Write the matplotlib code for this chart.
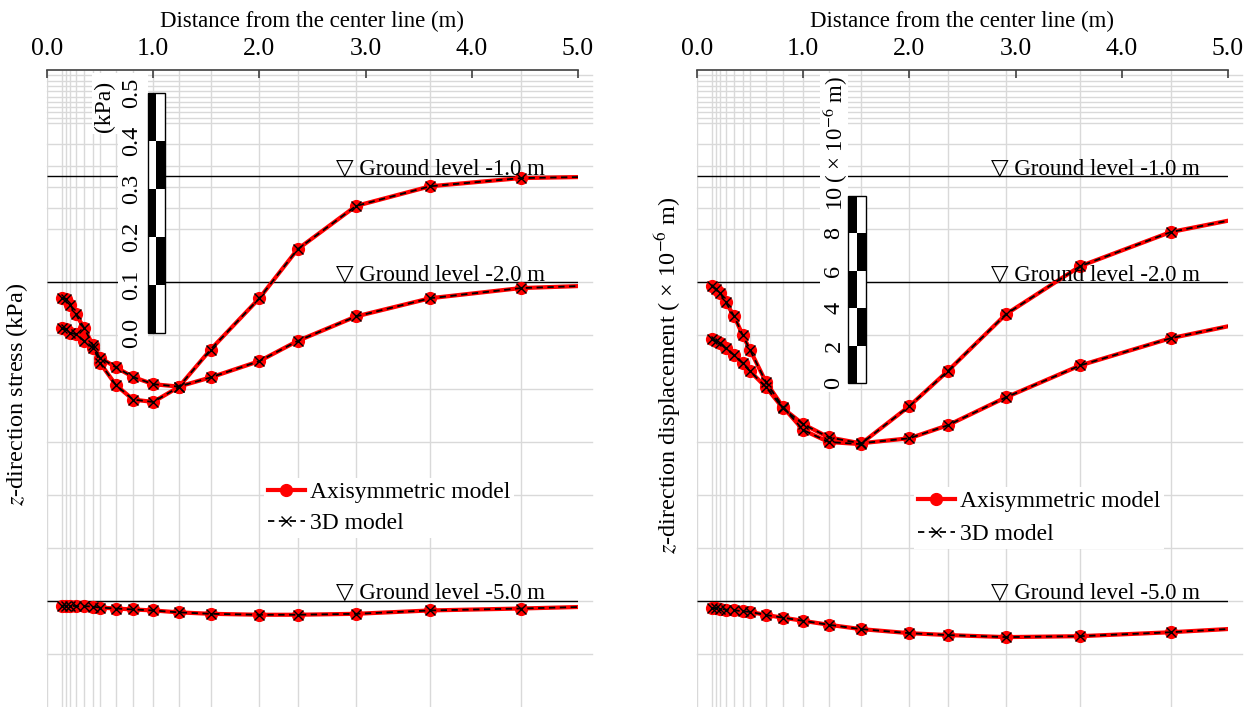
import matplotlib
matplotlib.use("Agg")
import numpy as np
import matplotlib.pyplot as plt
from matplotlib.patches import Rectangle

plt.rcParams['font.family'] = ['Liberation Serif', 'DejaVu Sans']
plt.rcParams['mathtext.fontset'] = 'stix'

# ---------------- data ----------------
x_pos = [0.14, 0.18, 0.22, 0.27, 0.35, 0.43, 0.50, 0.65, 0.81, 1.00,
         1.24, 1.54, 2.00, 2.36, 2.91, 3.61, 4.46, 5.50]

x_ticks = [0, 1, 2, 3, 4, 5]
x_tick_labels = ['0.0', '1.0', '2.0', '3.0', '4.0', '5.0']

ground_levels = [1.0, 2.0, 5.0]
ground_labels = ['▽ Ground level -1.0 m', '▽ Ground level -2.0 m', '▽ Ground level -5.0 m']

# z-direction stress (kPa), axisymmetric model
stress_axi_gl1 = [-0.254, -0.256, -0.268, -0.287, -0.316, -0.351, -0.389, -0.435, -0.465, -0.470,
                  -0.439, -0.361, -0.254, -0.152, -0.062, -0.021, -0.004, 0.000]
stress_axi_gl2 = [-0.096, -0.098, -0.105, -0.108, -0.122, -0.136, -0.157, -0.177, -0.197, -0.212,
                  -0.217, -0.198, -0.164, -0.122, -0.071, -0.033, -0.012, -0.004]
stress_axi_gl5 = [-0.010, -0.010, -0.010, -0.011, -0.011, -0.012, -0.014, -0.016, -0.018, -0.020,
                  -0.024, -0.027, -0.029, -0.029, -0.027, -0.020, -0.016, -0.010]
# z-direction stress (kPa), 3D model
stress_3d_gl1 = [-0.254, -0.256, -0.268, -0.287, -0.316, -0.351, -0.389, -0.435, -0.465, -0.470,
                 -0.439, -0.361, -0.254, -0.152, -0.062, -0.021, -0.004, 0.000]
stress_3d_gl2 = [-0.096, -0.098, -0.105, -0.108, -0.122, -0.136, -0.157, -0.177, -0.197, -0.212,
                 -0.217, -0.198, -0.164, -0.122, -0.071, -0.033, -0.012, -0.004]
stress_3d_gl5 = [-0.010, -0.010, -0.010, -0.011, -0.011, -0.012, -0.014, -0.016, -0.018, -0.020,
                 -0.024, -0.027, -0.029, -0.029, -0.027, -0.020, -0.016, -0.010]

# z-direction displacement (x1e-6 m), axisymmetric model
disp_axi_gl1 = [-5.88, -6.04, -6.26, -6.74, -7.49, -8.50, -9.30, -11.02, -12.35, -13.58,
                -14.22, -14.33, -12.30, -10.43, -7.38, -4.81, -2.99, -1.82]
disp_axi_gl2 = [-3.05, -3.16, -3.26, -3.53, -3.90, -4.33, -4.76, -5.61, -6.74, -7.59,
                -8.29, -8.61, -8.34, -7.65, -6.15, -4.44, -2.99, -1.76]
disp_axi_gl5 = [-0.38, -0.40, -0.42, -0.47, -0.50, -0.56, -0.59, -0.76, -0.90, -1.07,
                -1.28, -1.51, -1.73, -1.83, -1.94, -1.89, -1.68, -1.35]
# z-direction displacement (x1e-6 m), 3D model
disp_3d_gl1 = [-5.88, -6.04, -6.26, -6.74, -7.49, -8.50, -9.30, -11.02, -12.35, -13.58,
               -14.22, -14.33, -12.30, -10.43, -7.38, -4.81, -2.99, -1.82]
disp_3d_gl2 = [-3.05, -3.16, -3.26, -3.53, -3.90, -4.33, -4.76, -5.61, -6.74, -7.59,
               -8.29, -8.61, -8.34, -7.65, -6.15, -4.44, -2.99, -1.76]
disp_3d_gl5 = [-0.38, -0.40, -0.42, -0.47, -0.50, -0.56, -0.59, -0.76, -0.90, -1.07,
               -1.28, -1.51, -1.73, -1.83, -1.94, -1.89, -1.68, -1.35]

# horizontal mesh grid depths (m)
grid_depths = [0.05, 0.10, 0.15, 0.20, 0.25, 0.30, 0.35, 0.40, 0.45, 0.50,
               0.70, 0.90, 1.10, 1.30, 1.50, 2.0, 2.5, 3.0, 3.5, 4.0, 4.5, 5.0, 5.5]

stress_bar_ticks = ['0.0', '0.1', '0.2', '0.3', '0.4', '0.5']
disp_bar_ticks = ['0', '2', '4', '6', '8', '10']

# ---------------- figure ----------------
W, H = 1247, 707
fig = plt.figure(figsize=(W / 100, H / 100), dpi=100)
FS = 16.5
GRID_C = '#d9d9d9'


def setup_axes(left_px):
    ax = fig.add_axes([left_px / W, 0, 531 / W, 637 / H])
    ax.set_xlim(0, 5)
    ax.set_ylim(-6, 0)
    for s in ['left', 'right', 'bottom']:
        ax.spines[s].set_visible(False)
    ax.spines['top'].set_color('#404040')
    ax.spines['top'].set_linewidth(1.2)
    ax.xaxis.tick_top()
    ax.xaxis.set_label_position('top')
    ax.set_xticks(x_ticks)
    ax.set_xticklabels(x_tick_labels)
    ax.tick_params(axis='x', direction='in', length=6, width=1.2, color='#404040',
                   labelsize=18.5, pad=7)
    ax.set_yticks([])
    ax.set_xlabel('Distance from the center line (m)', fontsize=FS, labelpad=8)
    ax.patch.set_alpha(0)
    # grid
    ax.vlines([0] + x_pos[:-1], -6, 0, color=GRID_C, lw=1, zorder=0.5)
    for d in grid_depths:
        ax.plot([0, 5.13], [-d, -d], color=GRID_C, lw=1, zorder=0.5, clip_on=False)
    ax.hlines([-g for g in ground_levels], 0, 5, color='black', lw=1, zorder=1)
    return ax


def draw_bar(ax, x0, x1, y0, seg):
    xm = (x0 + x1) / 2
    for i in range(5):
        yb = y0 + i * seg
        left_black = (i % 2 == 0)
        ax.add_patch(Rectangle((x0, yb), xm - x0, seg, facecolor='black' if left_black else 'white',
                               edgecolor='none', zorder=3))
        ax.add_patch(Rectangle((xm, yb), x1 - xm, seg, facecolor='white' if left_black else 'black',
                               edgecolor='none', zorder=3))
    ax.add_patch(Rectangle((x0, y0), x1 - x0, 5 * seg, facecolor='none', edgecolor='black',
                           lw=1, zorder=3.5))


def draw_curves(ax, k, axi_list, d3_list):
    hs = []
    for lvl, va, vb in zip(ground_levels, axi_list, d3_list):
        ya = -lvl + k * np.array(va)
        yb = -lvl + k * np.array(vb)
        h1, = ax.plot(x_pos, ya, color='#ff0000', lw=3, marker='o', ms=8.5, zorder=5)
        h2, = ax.plot(x_pos, yb, color='black', lw=1.3, ls=(0, (3.5, 2.5)), marker='x',
                      ms=7.5, mew=1.0, zorder=6)
        hs = [h1, h2]
    return hs


def ground_text(ax, xr):
    for lvl, lab in zip(ground_levels, ground_labels):
        ax.text(xr, -lvl + 0.02, lab, ha='right', va='baseline', fontsize=FS, zorder=7)


# ---------- left panel: stress ----------
axL = setup_axes(47)
kL = 4.525  # m per kPa on the plot
hL = draw_curves(axL, kL, [stress_axi_gl1, stress_axi_gl2, stress_axi_gl5],
                 [stress_3d_gl1, stress_3d_gl2, stress_3d_gl5])
ground_text(axL, 4.69)
axL.add_patch(Rectangle((0.669, -2.64), 0.282, 2.61, facecolor='white', edgecolor='none', zorder=2))
axL.add_patch(Rectangle((0.42, -0.60), 0.26, 0.57, facecolor='white', edgecolor='none', zorder=2))
barL_bottom = -2.477
draw_bar(axL, 0.951, 1.11, barL_bottom, 0.1 * kL)
for i, t in enumerate(stress_bar_ticks):
    axL.text(0.80, barL_bottom + i * 0.1 * kL, t, rotation=90, ha='center', va='center',
             fontsize=17.5, zorder=4)
axL.text(0.54, -0.339, '(kPa)', rotation=90, ha='center', va='center', fontsize=17, zorder=4)
legL = axL.legend(hL, ['Axisymmetric model', '3D model'], loc='center left',
                  bbox_to_anchor=(264 / W, 1 - 508 / H), bbox_transform=fig.transFigure,
                  frameon=True, fancybox=False, facecolor='white', edgecolor='none', framealpha=1,
                  fontsize=17, handlelength=1.6, handletextpad=0.2, labelspacing=0.4,
                  borderpad=0.15, borderaxespad=0)
legL.set_zorder(8)
fig.text(17 / W, 1 - 394 / H, r'$z$-direction stress (kPa)', rotation=90, ha='center',
         va='center', fontsize=17.5)

# ---------- right panel: displacement ----------
axR = setup_axes(697)
kR = 0.1761  # m per 1e-6 m on the plot
hR = draw_curves(axR, kR, [disp_axi_gl1, disp_axi_gl2, disp_axi_gl5],
                 [disp_3d_gl1, disp_3d_gl2, disp_3d_gl5])
ground_text(axR, 4.737)
axR.add_patch(Rectangle((1.158, -3.03), 0.264, 3.0, facecolor='white', edgecolor='none', zorder=2))
barR_bottom = -2.948
draw_bar(axR, 1.422, 1.592, barR_bottom, 2 * kR)
for i, t in enumerate(disp_bar_ticks):
    axR.text(1.29, barR_bottom + i * 2 * kR, t, rotation=90, ha='center', va='center',
             fontsize=17.5, zorder=4)
axR.text(1.30, -0.56, r'( × 10$^{-6}$ m)', rotation=90, ha='center', va='center',
         fontsize=FS, zorder=4)
legR = axR.legend(hR, ['Axisymmetric model', '3D model'], loc='center left',
                  bbox_to_anchor=(914 / W, 1 - 518 / H), bbox_transform=fig.transFigure,
                  frameon=True, fancybox=False, facecolor='white', edgecolor='none', framealpha=1,
                  fontsize=17, handlelength=1.6, handletextpad=0.2, labelspacing=0.5,
                  borderpad=0.15, borderaxespad=0)
legR.set_zorder(8)
fig.text(668 / W, 1 - 375 / H, r'$z$-direction displacement ( × 10$^{-6}$ m)', rotation=90,
         ha='center', va='center', fontsize=17.5)

fig.savefig('out.png', dpi=100)
